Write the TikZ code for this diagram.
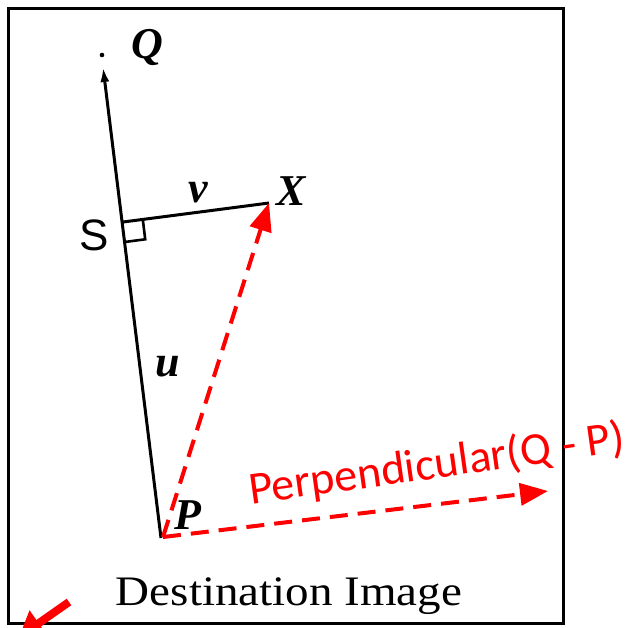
\documentclass[tikz,border=0pt]{standalone}
\usepackage{fontspec}
\setmainfont{Liberation Serif}
\newfontfamily\calibf{Carlito}
\newfontfamily\arialf{Liberation Sans}
\usetikzlibrary{arrows.meta}
\begin{document}
\begin{tikzpicture}[x=1pt,y=-1pt,
  blk/.style={line width=3pt, black},
  reddash/.style={red, line width=4pt, dash pattern=on 18pt off 10pt, -{Triangle[length=28pt,width=22pt]}},
  ptlabel/.style={font=\fontsize{44}{44}\selectfont\bfseries\itshape, inner sep=0pt},
  vlabel/.style={font=\fontsize{44}{44}\selectfont\bfseries\itshape, inner sep=0pt}]
\useasboundingbox (0,0) rectangle (636,627);
\begin{scope}
\clip (0,0) rectangle (636,627);
% frame
\draw[line width=3pt] (8,8) rectangle (563,623);
% points
\coordinate (P) at (161,538);
\coordinate (Qt) at (103,67);
\coordinate (S) at (123,222);
\coordinate (X) at (269,203);
\coordinate (Pr) at (163,537);
\coordinate (Pend) at (548,491);
\coordinate (Qdot) at (102,55);
% axis P -> Q
\draw[blk, -{Latex[length=15pt,width=9pt]}] (P) -- (Qt);
\fill (Qdot) circle (2.3pt);
% S -- X
\draw[blk] (S) -- (X);
% right angle marker
\coordinate (RA) at (142.8,219.4);
\coordinate (RB) at (145.2,239.3);
\coordinate (RC) at (125.4,241.9);
\draw[blk, line width=2.6pt] (RA) -- (RB) -- (RC);
% red dashed arrows
\draw[reddash] (Pr) -- (X);
\draw[reddash] (Pr) -- (Pend);
% bottom-left red arrow
\coordinate (BA) at (69,602);
\coordinate (BB) at (19,637);
\draw[red, line width=8pt, -{Triangle[length=24pt,width=30pt]}] (BA) -- (BB);
\end{scope}
% labels
\node[ptlabel] (Ql) at (147,47) {Q};
\node[ptlabel] (Xl) at (291,191) {X};
\node[ptlabel] (Pl) at (188,515) {P};
\node[vlabel] (ul) at (168,367) {u};
\node[vlabel] (vl) at (198,193) {v};
\node[inner sep=0pt, font=\arialf\fontsize{44}{44}\selectfont] (Sl) at (94,235) {S};
\node[inner sep=0pt, text=red, rotate=8, font=\calibf\fontsize{46}{46}\selectfont] (perp) at (437,465) {Perpendicular(Q\kern0.24em-\kern0.24em P)};
\node[inner sep=0pt, xscale=1.12, font=\fontsize{42}{42}\selectfont] (dest) at (289,596) {Destination Image};
\end{tikzpicture}
\end{document}
